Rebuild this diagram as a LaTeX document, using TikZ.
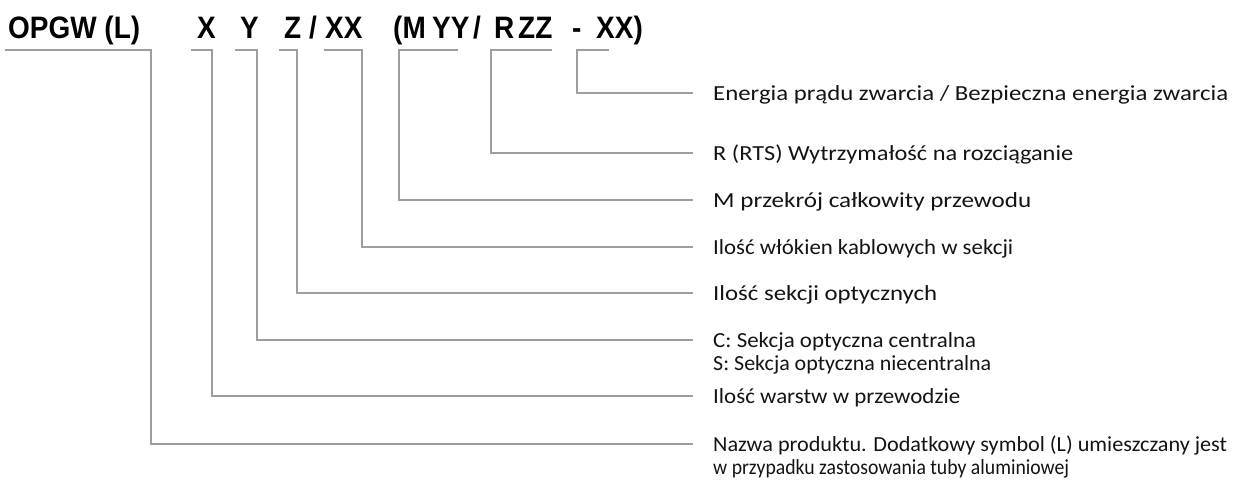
\documentclass[tikz,border=0pt]{standalone}
\usepackage{fontspec}
\usepackage{graphicx}
\setmainfont{Liberation Sans}
\newfontfamily\labelfamily{Carlito}

\definecolor{linegray}{RGB}{158,158,158}
\definecolor{inkblack}{RGB}{20,20,20}

\newlength\refw
\newcommand\hfnt{\fontsize{31}{36}\selectfont\bfseries}
\newcommand\lfnt{\labelfamily\fontsize{21.5}{23.5}\selectfont}

% typeset #2 squeezed or stretched horizontally to a width of #1 pt
\newcommand\fitto[2]{%
  \settowidth\refw{#2}%
  \pgfmathsetmacro\fx{#1/\refw}%
  \scalebox{\fx}[1]{#2}}

% common horizontal squeeze of the code letters
\AtBeginDocument{%
  \settowidth\refw{\hfnt OPGW (L)}%
  \pgfmathsetmacro\hx{132/\refw}%
}
\newcommand\hd[1]{\scalebox{\hx}[1]{#1}}

\begin{document}
\begin{tikzpicture}[x=1pt,y=-1pt,
  conn/.style={draw=linegray,line width=1.3pt},
  hdtok/.style={anchor=base west,inner sep=0pt,text=black,font=\hfnt},
  lab/.style={anchor=base west,inner sep=0pt,text=inkblack,font=\lfnt},
]
\useasboundingbox (0,0) rectangle (1249,485);

% designation code
\node[hdtok] (hOPGW) at (8,38)   {\hd{OPGW (L)}};
\node[hdtok] (hX)    at (197,38) {\hd{X}};
\node[hdtok] (hY)    at (240,38) {\hd{Y}};
\node[hdtok] (hZ)    at (284,38) {\hd{Z}};
\node[hdtok] (hS1)   at (309,38) {\hd{/}};
\node[hdtok] (hXX)   at (325,38) {\hd{XX}};
\node[hdtok] (hM)    at (393,38) {\hd{(M}};
\node[hdtok] (hYY)   at (432,38) {\hd{YY}};
\node[hdtok] (hS2)   at (473,38) {\hd{/}};
\node[hdtok] (hR)    at (494,38) {\hd{R}};
\node[hdtok] (hZZ)   at (518,38) {\hd{ZZ}};
\node[hdtok] (hD)    at (572,38) {\hd{-}};
\node[hdtok] (hXXb)  at (596,38) {\hd{XX)}};

% descriptions
\node[lab] (l1) at (713,100) {\fitto{515}{Energia prądu zwarcia / Bezpieczna energia zwarcia}};
\node[lab] (l2) at (713,160) {\fitto{360}{R (RTS) Wytrzymałość na rozciąganie}};
\node[lab] (l3) at (713,207) {\fitto{318}{M przekrój całkowity przewodu}};
\node[lab] (l4) at (713,254) {\fitto{300}{Ilość włókien kablowych w sekcji}};
\node[lab] (l5) at (713,300) {\fitto{224}{Ilość sekcji optycznych}};
\node[lab] (l6) at (713,347) {\begin{tabular}[t]{@{}l@{}}%
  \fitto{263}{C: Sekcja optyczna centralna}\\
  \fitto{278}{S: Sekcja optyczna niecentralna}\end{tabular}};
\node[lab] (l7) at (713,403) {\fitto{247}{Ilość warstw w przewodzie}};
\node[lab] (l8) at (713,451) {\begin{tabular}[t]{@{}l@{}}%
  \fitto{514}{Nazwa produktu. Dodatkowy symbol (L) umieszczany jest}\\
  \fitto{356}{w przypadku zastosowania tuby aluminiowej}\end{tabular}};

% bracket starts and corners under the code
\coordinate (s8) at (5,50);   \coordinate (v8) at (151,50);
\coordinate (s7) at (191,50); \coordinate (v7) at (212,50);
\coordinate (s6) at (235,50); \coordinate (v6) at (257,50);
\coordinate (s5) at (279,50); \coordinate (v5) at (297,50);
\coordinate (s4) at (324,50); \coordinate (v4) at (362,50);
\coordinate (s3) at (458,50); \coordinate (v3) at (399,50);
\coordinate (s2) at (552,50); \coordinate (v2) at (491,50);
\coordinate (s1) at (609,50); \coordinate (v1) at (577,50);

% leader lines
\foreach \i in {1,...,8}{
  \draw[conn] (s\i) -- (v\i) |- ([shift={(-20pt,7pt)}]l\i.base west);
}
\end{tikzpicture}
\end{document}
